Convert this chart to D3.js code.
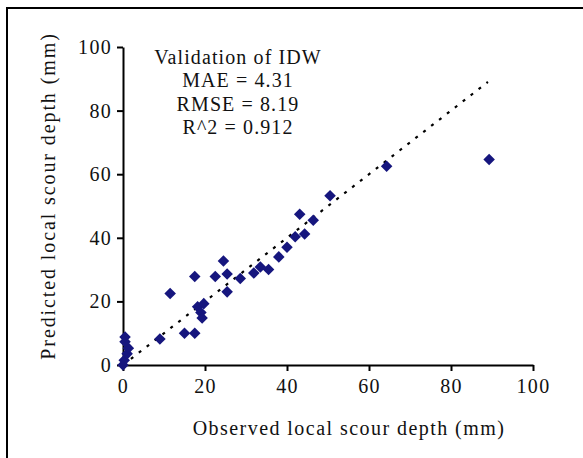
<!DOCTYPE html>
<html><head><meta charset="utf-8">
<script src="https://cdn.jsdelivr.net/npm/d3@7"></script>
<style>body{margin:0;background:#fff}svg{display:block}
text{font-family:'Liberation Serif','DejaVu Serif',serif;}</style>
</head><body>
<svg id="c" width="583" height="458"></svg>
<script>
const observed  = [0, 0.3, 1, 1.3, 0.5, 0.5, 9, 15, 17.5, 11.5, 17.5, 18.2, 19.7, 19, 19.3, 22.5, 24.5, 25.4, 25.4, 28.6, 31.9, 33.5, 35.5, 38, 40, 42, 44.3, 43.1, 46.4, 50.5, 64.3, 89.3];
const predicted = [0, 1.5, 3.5, 5.3, 7.3, 8.8, 8.2, 10, 10, 22.5, 27.8, 18.3, 19.3, 16.5, 14.8, 27.8, 32.7, 28.6, 23, 27.2, 28.9, 30.8, 30, 34, 37, 40.3, 41.2, 47.4, 45.5, 53.2, 62.5, 64.6];
const xTicks = [0, 20, 40, 60, 80, 100];
const yTicks = [0, 20, 40, 60, 80, 100];
const fitLine = [0, 89];
const statsText = ["Validation of IDW", "MAE = 4.31", "RMSE = 8.19", "R^2 = 0.912"];
const xTitle = "Observed local scour depth (mm)";
const yTitle = "Predicted local scour depth (mm)";

const svg = d3.select("#c");
const font = "'Liberation Serif','DejaVu Serif',serif";
svg.append("rect").attr("x", 7).attr("y", 8).attr("width", 700).attr("height", 600)
  .attr("fill", "#fff").attr("stroke", "#000").attr("stroke-width", 2);

const x = d3.scaleLinear().domain([0, 100]).range([123, 533]);
const y = d3.scaleLinear().domain([0, 100]).range([365, 47]);

// axes
const xa = svg.append("g").attr("transform", `translate(0,${y(0)})`)
  .call(d3.axisBottom(x).tickValues(xTicks).tickSize(6).tickPadding(8).tickSizeOuter(0));
const ya = svg.append("g").attr("transform", `translate(${x(0)},0)`)
  .call(d3.axisLeft(y).tickValues(yTicks).tickSize(6).tickPadding(5).tickSizeOuter(0));
[xa, ya].forEach(g => {
  g.attr("font-family", font).attr("font-size", 20);
  g.select(".domain").attr("stroke", "#000").attr("stroke-width", 2);
  g.selectAll(".tick line").attr("stroke", "#000").attr("stroke-width", 2);
  g.selectAll(".tick text").style("font-family", font).attr("font-size", 20)
    .attr("letter-spacing", 1.3).attr("fill", "#111");
});

// trend line
svg.append("line")
  .attr("x1", x(fitLine[0])).attr("y1", y(fitLine[0]))
  .attr("x2", x(fitLine[1])).attr("y2", y(fitLine[1]))
  .attr("stroke", "#000").attr("stroke-width", 2.2)
  .attr("stroke-dasharray", "3,7");

// points
const diamond = d3.symbol().type(d3.symbolDiamond2).size(85);
svg.append("g").selectAll("path").data(observed.map((o, i) => [o, predicted[i]]))
  .join("path")
  .attr("transform", d => `translate(${x(d[0])},${y(d[1])})`)
  .attr("d", diamond)
  .attr("fill", "#16167e");

// stats text
svg.append("g").selectAll("text").data(statsText).join("text")
  .attr("x", 238).attr("y", (d, i) => 64 + i * 23.3)
  .attr("text-anchor", "middle").style("font-family", font).attr("font-size", 20)
  .attr("letter-spacing", 1.1).attr("fill", "#111").text(d => d);

// titles
svg.append("text").attr("x", 349).attr("y", 435).attr("text-anchor", "middle")
  .style("font-family", font).attr("font-size", 20).attr("letter-spacing", 1.45)
  .attr("fill", "#111").text(xTitle);
svg.append("text").attr("transform", "translate(55,196) rotate(-90)").attr("text-anchor", "middle")
  .style("font-family", font).attr("font-size", 20).attr("letter-spacing", 1.9)
  .attr("fill", "#111").text(yTitle);
</script>
</body></html>
